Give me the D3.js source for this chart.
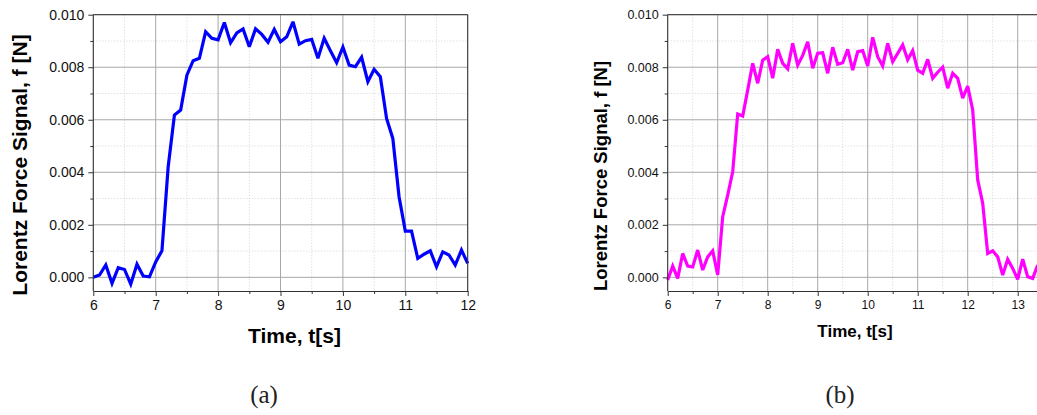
<!DOCTYPE html>
<html>
<head>
<meta charset="utf-8">
<script src="https://cdn.jsdelivr.net/npm/d3@7"></script>
<style>
  html, body { margin: 0; padding: 0; background: #fff; }
  svg { display: block; }
</style>
</head>
<body>
<svg id="fig" width="1037" height="415"></svg>
<script>
// Panel (a): sample times [s] and Lorentz force [N]
const timeA = [6.0, 6.1, 6.2, 6.3, 6.4, 6.5, 6.6, 6.7, 6.8, 6.9,
               7.0, 7.1, 7.2, 7.3, 7.4, 7.5, 7.6, 7.7, 7.8, 7.9,
               8.0, 8.1, 8.2, 8.3, 8.4, 8.5, 8.6, 8.7, 8.8, 8.9,
               9.0, 9.1, 9.2, 9.3, 9.4, 9.5, 9.6, 9.7, 9.8, 9.9,
               10.0, 10.1, 10.2, 10.3, 10.4, 10.5, 10.6, 10.7, 10.8, 10.9,
               11.0, 11.1, 11.2, 11.3, 11.4, 11.5, 11.6, 11.7, 11.8, 11.9,
               12.0];
const forceA = [0.00000, 0.00009, 0.00047, -0.00023, 0.00037, 0.00030, -0.00026, 0.00050, 0.00005, 0.00002,
                0.00059, 0.00101, 0.00421, 0.00618, 0.00637, 0.00770, 0.00825, 0.00834, 0.00935, 0.00910,
                0.00904, 0.00970, 0.00893, 0.00931, 0.00946, 0.00878, 0.00946, 0.00925, 0.00895, 0.00944,
                0.00897, 0.00916, 0.00973, 0.00888, 0.00901, 0.00906, 0.00834, 0.00910, 0.00863, 0.00817,
                0.00877, 0.00808, 0.00802, 0.00838, 0.00745, 0.00792, 0.00764, 0.00605, 0.00529, 0.00307,
                0.00176, 0.00176, 0.00072, 0.00088, 0.00101, 0.00040, 0.00097, 0.00085, 0.00047, 0.00104,
                0.00053];

// Panel (b): sample times [s] and Lorentz force [N]
const timeB = [6.0, 6.1, 6.2, 6.3, 6.4, 6.5, 6.6, 6.7, 6.8, 6.9,
               7.0, 7.1, 7.2, 7.3, 7.4, 7.5, 7.6, 7.7, 7.8, 7.9,
               8.0, 8.1, 8.2, 8.3, 8.4, 8.5, 8.6, 8.7, 8.8, 8.9,
               9.0, 9.1, 9.2, 9.3, 9.4, 9.5, 9.6, 9.7, 9.8, 9.9,
               10.0, 10.1, 10.2, 10.3, 10.4, 10.5, 10.6, 10.7, 10.8, 10.9,
               11.0, 11.1, 11.2, 11.3, 11.4, 11.5, 11.6, 11.7, 11.8, 11.9,
               12.0, 12.1, 12.2, 12.3, 12.4, 12.5, 12.6, 12.7, 12.8, 12.9,
               13.0, 13.1, 13.2, 13.3, 13.4];
const forceB = [-0.00010, 0.00043, -0.00004, 0.00091, 0.00043, 0.00040, 0.00104, 0.00028, 0.00078, 0.00101,
                0.00009, 0.00231, 0.00313, 0.00402, 0.00622, 0.00614, 0.00713, 0.00815, 0.00739, 0.00827,
                0.00840, 0.00758, 0.00868, 0.00815, 0.00794, 0.00891, 0.00808, 0.00845, 0.00897, 0.00796,
                0.00853, 0.00855, 0.00777, 0.00876, 0.00811, 0.00817, 0.00868, 0.00789, 0.00859, 0.00863,
                0.00805, 0.00914, 0.00840, 0.00805, 0.00891, 0.00821, 0.00853, 0.00885, 0.00828, 0.00863,
                0.00789, 0.00777, 0.00830, 0.00758, 0.00781, 0.00800, 0.00720, 0.00777, 0.00758, 0.00682,
                0.00728, 0.00637, 0.00371, 0.00282, 0.00091, 0.00101, 0.00078, 0.00009, 0.00069, 0.00034,
                -0.00008, 0.00069, 0.00002, -0.00004, 0.00047];

// Axis ticks
const xMajorA = [6, 7, 8, 9, 10, 11, 12];
const xMinorA = [6.5, 7.5, 8.5, 9.5, 10.5, 11.5];
const xMajorB = [6, 7, 8, 9, 10, 11, 12, 13];
const xMinorB = [6.5, 7.5, 8.5, 9.5, 10.5, 11.5, 12.5];
const yMajor = [0.000, 0.002, 0.004, 0.006, 0.008, 0.010];
const yMinor = [0.001, 0.003, 0.005, 0.007, 0.009];

const yTitle = "Lorentz Force Signal, f [N]";
const xTitle = "Time, t[s]";

const svg = d3.select("#fig");

function panel(o) {
  const x = d3.scaleLinear().domain(o.xDomain).range([o.left, o.right]);
  const y = d3.scaleLinear().domain([-0.00052, 0.010]).range([o.bottom, o.top]);
  const g = svg.append("g");

  // minor grid (dotted)
  const grid = g.append("g").attr("fill", "none");
  grid.selectAll("line.mx").data(o.xMinor).join("line")
    .attr("x1", d => x(d)).attr("x2", d => x(d))
    .attr("y1", o.top).attr("y2", o.bottom)
    .attr("stroke", "#d4d4d4").attr("stroke-dasharray", "1,2");
  grid.selectAll("line.my").data(yMinor).join("line")
    .attr("x1", o.left).attr("x2", o.right)
    .attr("y1", d => y(d)).attr("y2", d => y(d))
    .attr("stroke", "#d4d4d4").attr("stroke-dasharray", "1,2");
  // major grid (solid)
  grid.selectAll("line.Mx").data(o.xMajor).join("line")
    .attr("x1", d => x(d)).attr("x2", d => x(d))
    .attr("y1", o.top).attr("y2", o.bottom)
    .attr("stroke", "#a8a8a8");
  grid.selectAll("line.My").data(yMajor).join("line")
    .attr("x1", o.left).attr("x2", o.right)
    .attr("y1", d => y(d)).attr("y2", d => y(d))
    .attr("stroke", "#a8a8a8");

  // data line
  const line = d3.line().x(d => x(d[0])).y(d => y(d[1]));
  g.append("path")
    .datum(o.times.map((t, i) => [t, o.values[i]]))
    .attr("d", line)
    .attr("fill", "none")
    .attr("stroke", o.color)
    .attr("stroke-width", 3.2)
    .attr("stroke-linejoin", "miter")
    .attr("stroke-miterlimit", 3);

  // frame (top and right)
  g.append("line").attr("x1", o.left).attr("x2", o.right)
    .attr("y1", o.top).attr("y2", o.top).attr("stroke", "#333");
  g.append("line").attr("x1", o.right).attr("x2", o.right)
    .attr("y1", o.top).attr("y2", o.bottom).attr("stroke", "#333");

  // bottom axis
  const xa = g.append("g").attr("transform", `translate(0,${o.bottom})`)
    .call(d3.axisBottom(x).tickValues(o.xMajor).tickSize(5).tickSizeOuter(0)
      .tickPadding(4).tickFormat(d3.format("d")));
  xa.selectAll(".tick text").attr("font-size", o.tickFont);
  g.append("g").attr("transform", `translate(0,${o.bottom})`)
    .call(d3.axisBottom(x).tickValues(o.xMinor).tickSize(3).tickSizeOuter(0)
      .tickFormat(""))
    .select(".domain").remove();

  // left axis
  const ya = g.append("g").attr("transform", `translate(${o.left},0)`)
    .call(d3.axisLeft(y).tickValues(yMajor).tickSize(5).tickSizeOuter(0)
      .tickPadding(4).tickFormat(d3.format(".3f")));
  ya.selectAll(".tick text").attr("font-size", o.yTickFont);
  g.append("g").attr("transform", `translate(${o.left},0)`)
    .call(d3.axisLeft(y).tickValues(yMinor).tickSize(3).tickSizeOuter(0)
      .tickFormat(""))
    .select(".domain").remove();

  g.selectAll(".domain, .tick line").attr("stroke", "#333");
  g.selectAll(".tick text").attr("font-family", "'Liberation Sans', Arial, sans-serif").attr("fill", "#111");
  ya.select(".domain").attr("d", `M0,${o.bottom}V${o.top}`);

  // axis titles
  g.append("text")
    .attr("transform", `translate(${o.yTitleX},${o.yTitleY}) rotate(-90)`)
    .attr("text-anchor", "middle")
    .attr("font-family", "'Liberation Sans', Arial, sans-serif")
    .attr("font-weight", "bold").attr("font-size", o.yTitleFont)
    .attr("fill", "#000")
    .text(yTitle);
  g.append("text")
    .attr("x", o.xTitleX).attr("y", o.xTitleY)
    .attr("text-anchor", "middle")
    .attr("font-family", "'Liberation Sans', Arial, sans-serif")
    .attr("font-weight", "bold").attr("font-size", o.xTitleFont)
    .attr("fill", "#000")
    .text(xTitle);

  // sub-figure caption
  g.append("text")
    .attr("x", o.capX).attr("y", 403)
    .attr("text-anchor", "middle")
    .attr("font-family", "'Liberation Serif', 'DejaVu Serif', serif")
    .attr("font-size", 25).attr("fill", "#222")
    .text(o.caption);
}

panel({
  left: 93.3, right: 467.7, top: 14.7, bottom: 291,
  xDomain: [6, 12], xMajor: xMajorA, xMinor: xMinorA,
  times: timeA, values: forceA, color: "#0000ff",
  tickFont: 14, yTickFont: 14,
  yTitleX: 27, yTitleY: 165, yTitleFont: 21,
  xTitleX: 294.5, xTitleY: 343, xTitleFont: 21,
  capX: 264, caption: "(a)"
});

panel({
  left: 667.7, right: 1037.7, top: 14.7, bottom: 291,
  xDomain: [6, 13.4], xMajor: xMajorB, xMinor: xMinorB,
  times: timeB, values: forceB, color: "#ff00ff",
  tickFont: 12, yTickFont: 12.5,
  yTitleX: 607, yTitleY: 176, yTitleFont: 18.5,
  xTitleX: 855, xTitleY: 337, xTitleFont: 17,
  capX: 840, caption: "(b)"
});
</script>
</body>
</html>
